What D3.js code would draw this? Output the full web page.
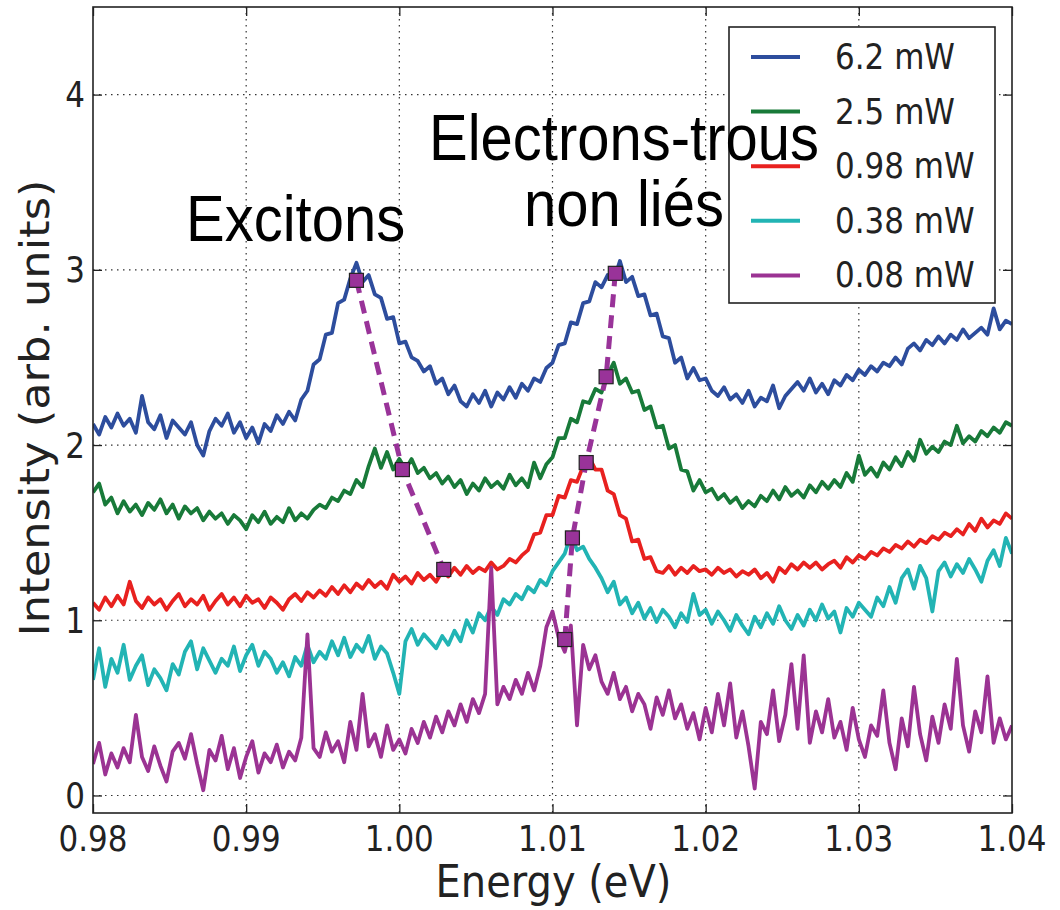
<!DOCTYPE html>
<html>
<head>
<meta charset="utf-8">
<script src="https://cdn.jsdelivr.net/npm/d3@7/dist/d3.min.js"></script>
<style>
  html, body { margin: 0; padding: 0; background: #ffffff; }
  svg { display: block; }
</style>
</head>
<body>
<svg id="chart" width="1060" height="910"></svg>
<script>
// ---------------- DATA ----------------
const energyStart = 0.98;     // eV, first sample
const energyStep = 0.0004;    // eV, sample spacing

const seriesLabels = ["6.2 mW", "2.5 mW", "0.98 mW", "0.38 mW", "0.08 mW"];

const power62 = [2.12,2.06,2.16,2.10,2.18,2.11,2.15,2.07,2.28,2.13,2.09,2.17,2.04,2.14,2.10,2.06,2.13,2.00,1.94,2.08,
2.15,2.11,2.18,2.07,2.13,2.04,2.10,2.01,2.12,2.08,2.17,2.12,2.19,2.14,2.26,2.31,2.46,2.49,2.63,2.64,
2.81,2.83,2.95,3.04,2.93,2.97,2.86,2.84,2.72,2.73,2.58,2.59,2.50,2.48,2.42,2.45,2.35,2.38,2.29,2.34,
2.25,2.22,2.29,2.24,2.31,2.22,2.30,2.26,2.33,2.27,2.35,2.31,2.38,2.36,2.44,2.47,2.57,2.58,2.70,2.69,
2.81,2.82,2.93,2.90,2.97,2.94,3.05,2.93,2.96,2.85,2.86,2.74,2.75,2.62,2.61,2.47,2.50,2.38,2.44,2.37,
2.38,2.31,2.28,2.33,2.26,2.29,2.24,2.31,2.22,2.27,2.25,2.34,2.21,2.28,2.32,2.36,2.31,2.38,2.30,2.35,
2.29,2.37,2.34,2.40,2.37,2.43,2.40,2.45,2.42,2.47,2.45,2.50,2.46,2.55,2.58,2.54,2.60,2.57,2.62,2.58,
2.63,2.60,2.66,2.61,2.64,2.67,2.63,2.78,2.66,2.71,2.69];

const power25 = [1.73,1.78,1.66,1.70,1.61,1.68,1.62,1.66,1.60,1.67,1.63,1.69,1.61,1.66,1.58,1.65,1.61,1.64,1.57,1.62,
1.58,1.61,1.55,1.60,1.57,1.52,1.60,1.56,1.62,1.55,1.59,1.56,1.64,1.57,1.61,1.58,1.63,1.66,1.64,1.70,
1.68,1.74,1.72,1.80,1.76,1.88,1.98,1.87,1.96,1.86,1.92,1.86,1.92,1.84,1.87,1.81,1.84,1.78,1.82,1.76,
1.80,1.72,1.78,1.74,1.81,1.76,1.79,1.75,1.83,1.77,1.81,1.76,1.90,1.81,1.89,1.93,2.04,2.04,2.15,2.13,
2.25,2.24,2.32,2.30,2.40,2.47,2.35,2.38,2.30,2.31,2.20,2.22,2.10,2.11,1.98,2.00,1.86,1.85,1.74,1.80,
1.73,1.75,1.69,1.72,1.67,1.70,1.64,1.68,1.65,1.71,1.68,1.74,1.69,1.76,1.71,1.74,1.70,1.77,1.73,1.79,
1.75,1.80,1.76,1.84,1.79,1.94,1.83,1.87,1.82,1.90,1.86,1.93,1.88,1.96,1.91,2.03,1.95,1.99,1.96,2.02,
2.00,2.11,2.01,2.05,2.02,2.08,2.05,2.10,2.07,2.13,2.11];

const power098 = [1.10,1.06,1.13,1.08,1.14,1.09,1.22,1.11,1.07,1.13,1.09,1.12,1.06,1.11,1.15,1.08,1.12,1.09,1.14,1.06,
1.11,1.15,1.09,1.13,1.08,1.14,1.10,1.12,1.07,1.13,1.10,1.06,1.12,1.15,1.11,1.16,1.13,1.17,1.14,1.19,
1.15,1.20,1.16,1.21,1.18,1.23,1.19,1.22,1.18,1.26,1.22,1.25,1.21,1.27,1.23,1.26,1.22,1.28,1.25,1.30,
1.26,1.31,1.27,1.30,1.28,1.33,1.29,1.31,1.35,1.33,1.37,1.40,1.49,1.50,1.60,1.60,1.71,1.70,1.80,1.79,
1.88,1.93,1.86,1.86,1.74,1.72,1.60,1.58,1.45,1.46,1.35,1.36,1.28,1.27,1.31,1.26,1.30,1.27,1.31,1.28,
1.29,1.26,1.30,1.27,1.29,1.25,1.28,1.26,1.29,1.24,1.27,1.22,1.30,1.27,1.32,1.29,1.33,1.30,1.33,1.29,
1.32,1.34,1.30,1.36,1.33,1.37,1.35,1.39,1.37,1.41,1.39,1.43,1.41,1.45,1.42,1.46,1.44,1.48,1.46,1.50,
1.48,1.52,1.49,1.55,1.51,1.58,1.53,1.57,1.55,1.61,1.58];

const power038 = [0.66,0.84,0.62,0.78,0.70,0.86,0.66,0.74,0.80,0.63,0.72,0.67,0.60,0.75,0.69,0.82,0.88,0.72,0.84,0.77,
0.70,0.78,0.74,0.85,0.71,0.80,0.86,0.74,0.82,0.78,0.70,0.76,0.68,0.79,0.74,0.86,0.76,0.82,0.78,0.88,
0.80,0.90,0.79,0.86,0.82,0.91,0.78,0.85,0.81,0.70,0.58,0.88,0.95,0.86,0.92,0.88,0.84,0.91,0.86,0.94,
0.88,1.00,0.93,1.04,1.00,1.08,1.03,1.12,1.09,1.15,1.12,1.19,1.16,1.23,1.20,1.28,1.33,1.38,1.49,1.40,
1.42,1.35,1.30,1.24,1.16,1.22,1.09,1.13,1.04,1.10,1.01,1.07,0.99,1.06,1.02,0.96,1.04,0.99,1.15,1.03,
1.06,0.98,1.05,1.00,0.94,1.03,0.97,0.92,1.02,0.96,1.04,0.98,1.08,1.00,0.95,1.03,0.97,1.06,1.00,1.09,
1.01,1.05,0.93,1.07,1.02,1.10,1.06,1.02,1.13,1.08,1.19,1.10,1.24,1.29,1.18,1.31,1.24,1.05,1.28,1.33,
1.25,1.32,1.27,1.35,1.29,1.22,1.34,1.40,1.31,1.47,1.38];

const power008 = [0.18,0.30,0.12,0.24,0.16,0.27,0.19,0.46,0.22,0.14,0.28,0.17,0.08,0.25,0.30,0.21,0.35,0.18,0.03,0.26,
0.20,0.34,0.15,0.27,0.10,0.22,0.31,0.13,0.24,0.19,0.29,0.16,0.25,0.20,0.33,0.92,0.27,0.22,0.36,0.25,
0.31,0.19,0.42,0.26,0.58,0.28,0.35,0.22,0.40,0.26,0.32,0.24,0.38,0.30,0.42,0.33,0.45,0.36,0.48,0.40,
0.52,0.42,0.55,0.47,0.58,1.30,0.52,0.62,0.55,0.66,0.58,0.70,0.60,0.74,0.96,1.05,0.90,0.82,0.97,0.40,
0.86,0.72,0.80,0.65,0.58,0.70,0.55,0.62,0.48,0.58,0.52,0.38,0.56,0.46,0.60,0.44,0.52,0.38,0.47,0.32,
0.50,0.36,0.58,0.40,0.64,0.33,0.48,0.28,0.04,0.42,0.35,0.60,0.31,0.46,0.75,0.38,0.80,0.30,0.48,0.36,
0.55,0.33,0.42,0.26,0.50,0.32,0.22,0.40,0.34,0.60,0.30,0.15,0.44,0.28,0.62,0.35,0.20,0.45,0.30,0.52,
0.38,0.78,0.40,0.25,0.48,0.36,0.68,0.30,0.44,0.32,0.40];

const seriesValues = [power62, power25, power098, power038, power008];

// peak positions (squares + dashed guide lines)
const excitonEnergy = [0.9972, 1.0002, 1.0029];
const excitonIntensity = [2.94, 1.86, 1.29];
const freeEnergy = [1.0141, 1.0135, 1.0122, 1.0113, 1.0108];
const freeIntensity = [2.98, 2.39, 1.90, 1.47, 0.89];

const xTickValues = [0.98, 0.99, 1.00, 1.01, 1.02, 1.03, 1.04];
const xTickLabels = ["0.98", "0.99", "1.00", "1.01", "1.02", "1.03", "1.04"];
const yTickValues = [0, 1, 2, 3, 4];
const yTickLabels = ["0", "1", "2", "3", "4"];

const xAxisTitle = "Energy (eV)";
const yAxisTitle = "Intensity (arb. units)";
const excitonLabel = "Excitons";
const freeLabelLines = ["Electrons-trous", "non liés"];

// ---------------- STYLE ----------------
const colors = ["#2d4d9d", "#187a39", "#e8211f", "#22b4b4", "#9b3393"];
const markerColor = "#993399";
const plot = { left: 93, top: 7, right: 1012, bottom: 813 };
const stretch = 1.12;   // the reference picture is slightly taller than wide
const tickFont = "DejaVu Sans, Verdana, sans-serif";
const annoFont = "Liberation Sans, Arial, sans-serif";

const svg = d3.select("#chart");

const x = d3.scaleLinear().domain([0.98, 1.04]).range([plot.left, plot.right]);
const y = d3.scaleLinear().domain([-0.1, 4.5]).range([plot.bottom, plot.top]);

// clip
svg.append("defs").append("clipPath").attr("id", "clip")
  .append("rect").attr("x", plot.left).attr("y", plot.top)
  .attr("width", plot.right - plot.left).attr("height", plot.bottom - plot.top);

// grid (dotted)
const grid = svg.append("g").attr("class", "grid");
grid.selectAll("line.gx").data(xTickValues.slice(1, -1)).join("line")
  .attr("x1", d => x(d)).attr("x2", d => x(d))
  .attr("y1", plot.top).attr("y2", plot.bottom)
  .attr("stroke", "#333").attr("stroke-width", 1.2).attr("stroke-dasharray", "1.5,4.5");
grid.selectAll("line.gy").data(yTickValues).join("line")
  .attr("x1", plot.left).attr("x2", plot.right)
  .attr("y1", d => y(d)).attr("y2", d => y(d))
  .attr("stroke", "#333").attr("stroke-width", 1.2).attr("stroke-dasharray", "1.5,4.5");

// curves
const line = d3.line()
  .x((d, i) => x(energyStart + i * energyStep))
  .y(d => y(d));

const curves = svg.append("g").attr("clip-path", "url(#clip)");
seriesValues.forEach((vals, k) => {
  curves.append("path").datum(vals)
    .attr("d", line)
    .attr("fill", "none")
    .attr("stroke", colors[k])
    .attr("stroke-width", 3.8)
    .attr("stroke-linejoin", "round");
});

// dashed guide lines + square markers
const guide = d3.line().x(d => x(d[0])).y(d => y(d[1]));
const excitonPts = excitonEnergy.map((e, i) => [e, excitonIntensity[i]]);
const freePts = freeEnergy.map((e, i) => [e, freeIntensity[i]]);
[excitonPts, freePts].forEach(pts => {
  svg.append("path").datum(pts).attr("d", guide)
    .attr("fill", "none").attr("stroke", markerColor)
    .attr("stroke-width", 5).attr("stroke-dasharray", "13,8");
});
const ms = 14;
svg.append("g").selectAll("rect").data(excitonPts.concat(freePts)).join("rect")
  .attr("x", d => x(d[0]) - ms / 2).attr("y", d => y(d[1]) - ms / 2)
  .attr("width", ms).attr("height", ms)
  .attr("fill", markerColor).attr("stroke", "#222").attr("stroke-width", 1.2);

// axes (ticks pointing inward on all four sides)
const tickLen = 9;
function styleAxis(g) {
  g.select(".domain").remove();
  g.selectAll(".tick line").attr("stroke", "#222").attr("stroke-width", 1.3);
  g.selectAll(".tick text").remove();
}
svg.append("g").attr("transform", `translate(0,${plot.bottom})`)
  .call(d3.axisTop(x).tickValues(xTickValues).tickSize(tickLen)).call(styleAxis);
svg.append("g").attr("transform", `translate(0,${plot.top})`)
  .call(d3.axisBottom(x).tickValues(xTickValues).tickSize(tickLen)).call(styleAxis);
svg.append("g").attr("transform", `translate(${plot.left},0)`)
  .call(d3.axisRight(y).tickValues(yTickValues).tickSize(tickLen)).call(styleAxis);
svg.append("g").attr("transform", `translate(${plot.right},0)`)
  .call(d3.axisLeft(y).tickValues(yTickValues).tickSize(tickLen)).call(styleAxis);

// frame
svg.append("rect").attr("x", plot.left).attr("y", plot.top)
  .attr("width", plot.right - plot.left).attr("height", plot.bottom - plot.top)
  .attr("fill", "none").attr("stroke", "#222").attr("stroke-width", 1.6);

// helper: stretched text
function sText(parent, str, px, py, size, family, anchor, color) {
  return parent.append("text")
    .attr("transform", `translate(${px},${py}) scale(1,${stretch})`)
    .attr("text-anchor", anchor)
    .attr("font-family", family)
    .attr("font-size", size)
    .attr("fill", color || "#222")
    .text(str);
}

// tick labels
xTickValues.forEach((v, i) => sText(svg, xTickLabels[i], x(v), 851, 31, tickFont, "middle"));
yTickValues.forEach((v, i) => sText(svg, yTickLabels[i], 85, y(v) + 12.5, 31, tickFont, "end"));

// axis titles
sText(svg, xAxisTitle, (plot.left + plot.right) / 2 + 1, 897, 40, tickFont, "middle");
svg.append("text")
  .attr("transform", `translate(49,${408}) rotate(-90) scale(${stretch},1)`)
  .attr("text-anchor", "middle")
  .attr("font-family", tickFont).attr("font-size", 40).attr("fill", "#222")
  .text(yAxisTitle);

// legend
const lg = svg.append("g");
lg.append("rect").attr("x", 729).attr("y", 27).attr("width", 266).attr("height", 276)
  .attr("fill", "#fff").attr("stroke", "#222").attr("stroke-width", 1.6);
seriesLabels.forEach((lab, k) => {
  const cy = 57 + k * 54.6;
  lg.append("line").attr("x1", 751).attr("x2", 800).attr("y1", cy).attr("y2", cy)
    .attr("stroke", colors[k]).attr("stroke-width", 4);
  sText(lg, lab, 835, cy + 12, 31, tickFont, "start");
});

// annotations (drawn over the legend, as in the reference)
sText(svg, excitonLabel, 186, 241, 58, annoFont, "start", "#000");
sText(svg, freeLabelLines[0], 624, 160, 58, annoFont, "middle", "#000");
sText(svg, freeLabelLines[1], 624, 226, 58, annoFont, "middle", "#000");
</script>
</body>
</html>
